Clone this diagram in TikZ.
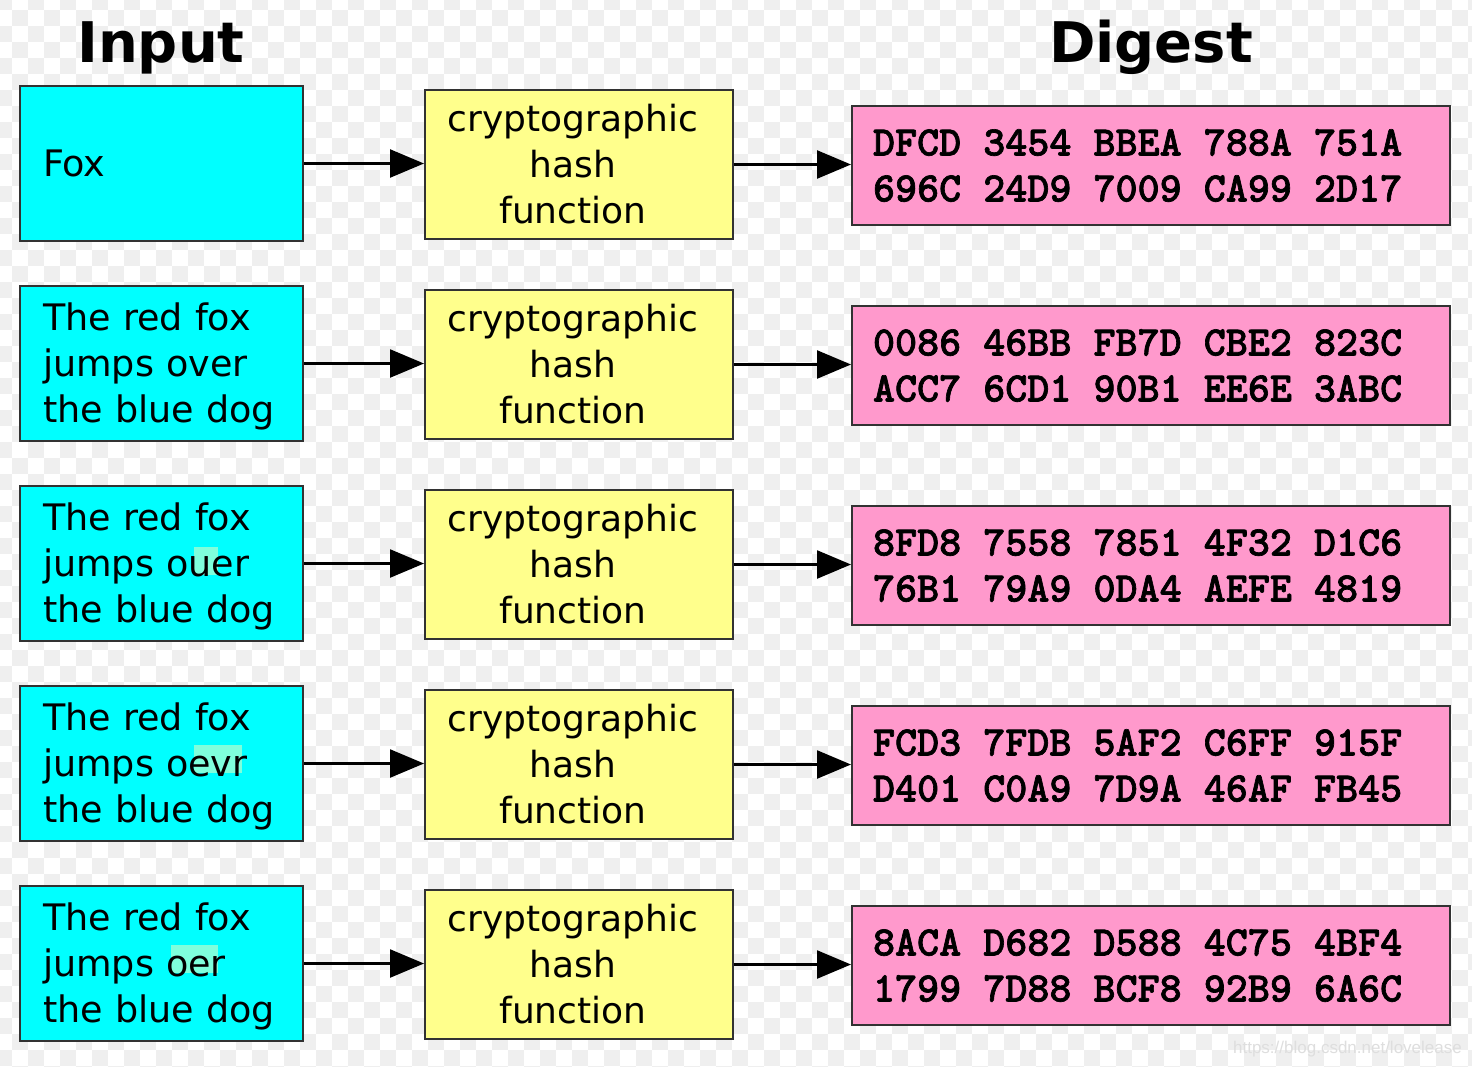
\documentclass[tikz,border=0pt]{standalone}
\usepackage{fontspec}
\setmainfont{DejaVu Sans}
\newfontfamily\digfont{lmmonolt10-bold}[Extension=.otf,FakeBold=1.6]
\newfontfamily\wmfont{Liberation Sans}
\usetikzlibrary{arrows.meta}
\definecolor{chk}{RGB}{239,239,239}
\definecolor{incol}{RGB}{0,255,255}
\definecolor{hashcol}{RGB}{255,255,140}
\definecolor{digcol}{RGB}{255,153,204}
\definecolor{hlcol}{RGB}{127,255,220}
\definecolor{boxline}{RGB}{50,50,50}
\definecolor{wmcol}{RGB}{222,222,222}
\newcommand\gsp{\hspace*{\fontcharwd\font`0}}
\newcommand\hashtext{\begin{tabular}{@{}c@{}}\rule{0pt}{40.2pt}cryptographic\\hash\\function\end{tabular}\hspace*{12pt}}
\newcommand\fstrut{\rule{0pt}{34pt}}
\begin{document}
\begin{tikzpicture}[x=1pt,y=-1pt,
  box/.style={draw=boxline, line width=2pt, inner ysep=0pt},
  inbox/.style={box, fill=incol, minimum width=283pt, minimum height=155pt,
    text width=237pt, inner xsep=23pt, align=left, font=\fontsize{36.5}{46}\selectfont},
  hashbox/.style={box, fill=hashcol, minimum width=308pt, minimum height=149pt,
    inner xsep=0pt, font=\fontsize{36}{46}\selectfont},
  digbox/.style={box, fill=digcol, minimum width=598pt, minimum height=119pt,
    text width=556pt, inner xsep=21pt, align=left,
    font=\digfont\fontsize{42}{46}\selectfont},
  title/.style={font=\bfseries\fontsize{56}{60}\selectfont, anchor=base, inner sep=0pt},
  arr/.style={draw=black, line width=2.4pt, -{Triangle[length=34pt,width=28pt]}},
  hlmark/.style={path picture={\fill[hlcol] ([shift={(#1)}]path picture bounding box.north west) rectangle ++(\hlw,28);}}
]
\useasboundingbox (0,0) rectangle (1472,1066);
% checkerboard background
\begin{scope}
  \clip (0,0) rectangle (1472,1066);
  \fill[white] (0,0) rectangle (1472,1066);
  \foreach \j in {0,...,67} {
    \pgfmathtruncatemacro{\st}{mod(\j,2)}
    \pgfmathtruncatemacro{\nx}{\st+2}
    \foreach \i in {\st,\nx,...,92} {
      \fill[chk] (-4+16*\i, -6+16*\j) rectangle ++(16,16);
    }
  }
\end{scope}

% titles
\node[title] (tin) at (161,62) {Input};
\node[title] (tdig) at (1151,62) {Digest};

% input boxes
\node[inbox] (in1) at (161.5,163.5) {Fox};
\node[inbox] (in2) at (161.5,363.5) {\fstrut The red fox\\jumps over\\the blue dog};
\def\hlw{24}
\node[inbox, hlmark={174,61}] (in3) at (161.5,563.5) {\fstrut The red fox\\jumps ouer\\the blue dog};
\def\hlw{48}
\node[inbox, hlmark={174,59}] (in4) at (161.5,763.5) {\fstrut The red fox\\jumps oevr\\the blue dog};
\def\hlw{47}
\node[inbox, hlmark={151,59}] (in5) at (161.5,963.5) {\fstrut The red fox\\jumps oer\\the blue dog};

% hash boxes
\foreach \k in {1,...,5} {
  \node[hashbox] (h\k) at (579,{164.5+200*(\k-1)}) {\hashtext};
}

% digest boxes
\node[digbox] (d1) at (1151,165.5) {DFCD\gsp 3454\gsp BBEA\gsp 788A\gsp 751A\\696C\gsp 24D9\gsp 7009\gsp CA99\gsp 2D17};
\node[digbox] (d2) at (1151,365.5) {0086\gsp 46BB\gsp FB7D\gsp CBE2\gsp 823C\\ACC7\gsp 6CD1\gsp 90B1\gsp EE6E\gsp 3ABC};
\node[digbox] (d3) at (1151,565.5) {8FD8\gsp 7558\gsp 7851\gsp 4F32\gsp D1C6\\76B1\gsp 79A9\gsp 0DA4\gsp AEFE\gsp 4819};
\node[digbox] (d4) at (1151,765.5) {FCD3\gsp 7FDB\gsp 5AF2\gsp C6FF\gsp 915F\\D401\gsp C0A9\gsp 7D9A\gsp 46AF\gsp FB45};
\node[digbox] (d5) at (1151,965.5) {8ACA\gsp D682\gsp D588\gsp 4C75\gsp 4BF4\\1799\gsp 7D88\gsp BCF8\gsp 92B9\gsp 6A6C};

% arrows
\foreach \k in {1,...,5} {
  \draw[arr] (in\k.east) -- (in\k.east -| h\k.west);
  \draw[arr] (h\k.east) -- (h\k.east -| d\k.west);
}

% watermark
\node[font=\wmfont\fontsize{17}{17}\selectfont, text=wmcol, anchor=base east, inner sep=0pt] (wm) at (1462,1053) {https://blog.csdn.net/lovelease};
\end{tikzpicture}
\end{document}
